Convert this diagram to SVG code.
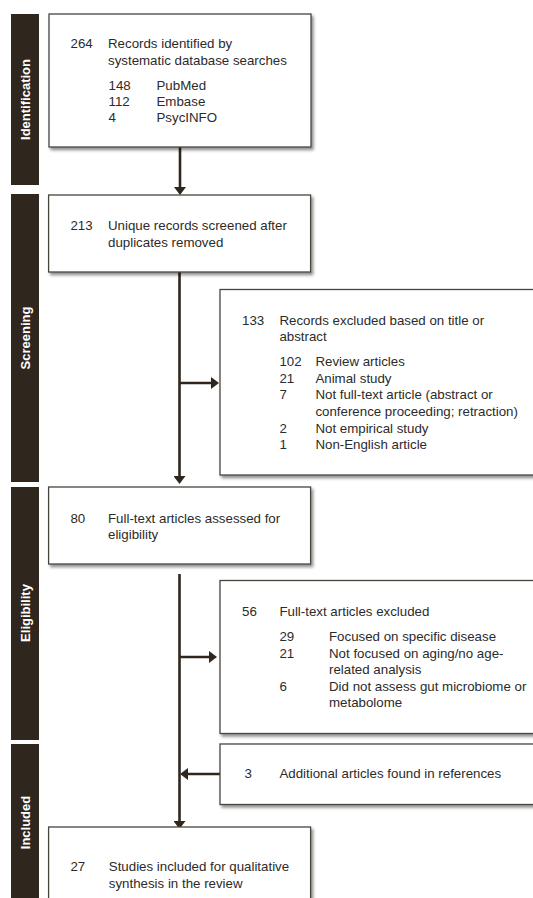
<svg xmlns="http://www.w3.org/2000/svg" width="533" height="898" viewBox="0 0 533 898">
<style>
.bg{fill:#ffffff}
.bar{fill:#2f271d}
.bar-label{font-family:"Liberation Sans",Arial,sans-serif;font-size:13px;font-weight:bold;fill:#ffffff;text-anchor:middle}
.box{fill:#ffffff;stroke:#4a453e;stroke-width:1.3;filter:url(#shadow)}
.t{font-family:"Liberation Sans",Arial,sans-serif;font-size:13.3px;fill:#2b2b2b}
.conn{stroke:#2f271d;stroke-width:2.6;fill:none}
</style>
<defs>
<filter id="shadow" x="-10%" y="-10%" width="130%" height="130%">
<feDropShadow dx="2" dy="2.5" stdDeviation="1.5" flood-color="#000000" flood-opacity="0.45"/>
</filter>
<marker id="arrow" viewBox="0 0 8 12" refX="4" refY="6" markerWidth="8" markerHeight="12" markerUnits="userSpaceOnUse" orient="auto">
<path d="M0,0 L8,6 L0,12 Z" fill="#2f271d"/>
</marker>
</defs>
<rect class="bg" x="0" y="0" width="533" height="898"/>

<g id="phase-identification">
<rect class="bar" x="11" y="14" width="28" height="171"/>
<text class="bar-label" transform="translate(30,99.5) rotate(-90)">Identification</text>
</g>
<g id="phase-screening">
<rect class="bar" x="11" y="194" width="28" height="288"/>
<text class="bar-label" transform="translate(30,338) rotate(-90)">Screening</text>
</g>
<g id="phase-eligibility">
<rect class="bar" x="11" y="487" width="28" height="253"/>
<text class="bar-label" transform="translate(30,613) rotate(-90)">Eligibility</text>
</g>
<g id="phase-included">
<rect class="bar" x="11" y="744" width="28" height="160"/>
<text class="bar-label" transform="translate(30,822.5) rotate(-90)">Included</text>
</g>

<g id="connectors">
<line class="conn" x1="180" y1="147" x2="180" y2="191" marker-end="url(#arrow)"/>
<line class="conn" x1="179.5" y1="272" x2="179.5" y2="480" marker-end="url(#arrow)"/>
<line class="conn" x1="179.5" y1="383" x2="215" y2="383" marker-end="url(#arrow)"/>
<line class="conn" x1="179.5" y1="574" x2="179.5" y2="825" marker-end="url(#arrow)"/>
<line class="conn" x1="179.5" y1="657" x2="213" y2="657" marker-end="url(#arrow)"/>
<line class="conn" x1="220" y1="774" x2="184" y2="774" marker-end="url(#arrow)"/>
</g>

<g id="node-identified">
<rect class="box" x="49" y="14" width="262" height="133"/>
<text class="t" x="70.5" y="48">264</text>
<text class="t" x="108" y="48">Records identified by</text>
<text class="t" x="108" y="64.5">systematic database searches</text>
<text class="t" x="108.5" y="90">148</text>
<text class="t" x="156.5" y="90">PubMed</text>
<text class="t" x="108.5" y="106">112</text>
<text class="t" x="156.5" y="106">Embase</text>
<text class="t" x="108.5" y="122">4</text>
<text class="t" x="156.5" y="122">PsycINFO</text>
</g>

<g id="node-screened">
<rect class="box" x="48.6" y="195" width="262" height="77"/>
<text class="t" x="70.4" y="230">213</text>
<text class="t" x="108" y="230">Unique records screened after</text>
<text class="t" x="108" y="246.5">duplicates removed</text>
</g>

<g id="node-excluded-title">
<rect class="box" x="220" y="289.5" width="330" height="185.5"/>
<text class="t" x="242" y="324.5">133</text>
<text class="t" x="279.4" y="324.5">Records excluded based on title or</text>
<text class="t" x="279.4" y="341">abstract</text>
<text class="t" x="279.4" y="366">102</text>
<text class="t" x="315.4" y="366">Review articles</text>
<text class="t" x="279.4" y="382.5">21</text>
<text class="t" x="315.4" y="382.5">Animal study</text>
<text class="t" x="279.4" y="399">7</text>
<text class="t" x="315.4" y="399">Not full-text article (abstract or</text>
<text class="t" x="315.4" y="416">conference proceeding; retraction)</text>
<text class="t" x="279.4" y="432.5">2</text>
<text class="t" x="315.4" y="432.5">Not empirical study</text>
<text class="t" x="279.4" y="449">1</text>
<text class="t" x="315.4" y="449">Non-English article</text>
</g>

<g id="node-fulltext">
<rect class="box" x="48.6" y="487" width="262" height="77"/>
<text class="t" x="70.4" y="522.7">80</text>
<text class="t" x="108" y="522.7">Full-text articles assessed for</text>
<text class="t" x="108" y="539">eligibility</text>
</g>

<g id="node-excluded-fulltext">
<rect class="box" x="220" y="580.5" width="330" height="153"/>
<text class="t" x="242" y="616">56</text>
<text class="t" x="279.4" y="616">Full-text articles excluded</text>
<text class="t" x="279.4" y="641">29</text>
<text class="t" x="329" y="641">Focused on specific disease</text>
<text class="t" x="279.4" y="657.5">21</text>
<text class="t" x="329" y="657.5">Not focused on aging/no age-</text>
<text class="t" x="329" y="674">related analysis</text>
<text class="t" x="279.4" y="690.5">6</text>
<text class="t" x="329" y="690.5">Did not assess gut microbiome or</text>
<text class="t" x="329" y="707">metabolome</text>
</g>

<g id="node-additional">
<rect class="box" x="220" y="744" width="330" height="60.5"/>
<text class="t" x="244.5" y="778.4">3</text>
<text class="t" x="279.4" y="778.4">Additional articles found in references</text>
</g>

<g id="node-included">
<rect class="box" x="48.6" y="827" width="262" height="90"/>
<text class="t" x="70.4" y="871">27</text>
<text class="t" x="108.8" y="871">Studies included for qualitative</text>
<text class="t" x="108.8" y="887.5">synthesis in the review</text>
</g>
</svg>
